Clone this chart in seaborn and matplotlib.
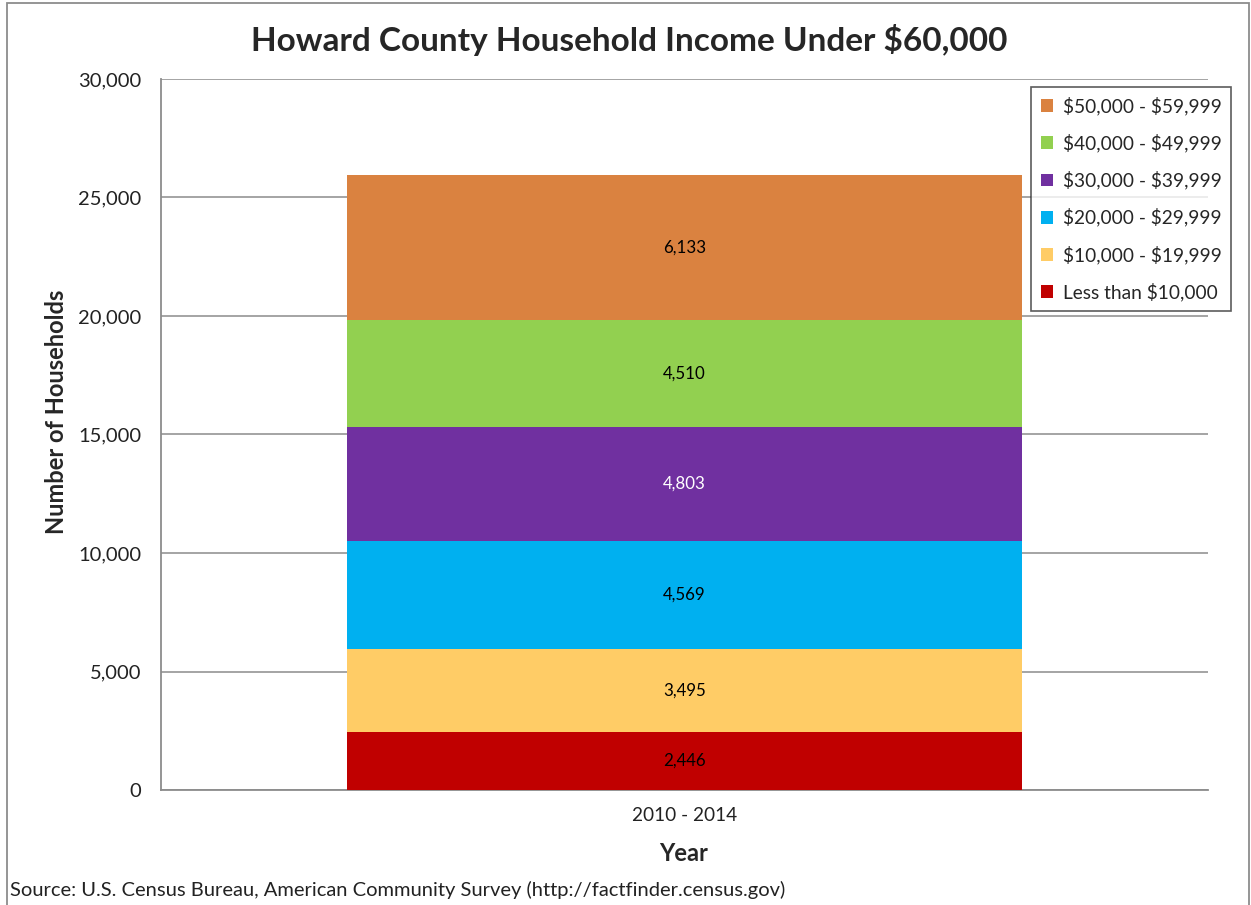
import matplotlib
matplotlib.use("Agg")
import matplotlib.pyplot as plt
import seaborn as sns
import pandas as pd
import numpy as np
from matplotlib.patches import Rectangle, Patch
from matplotlib.ticker import FuncFormatter, MultipleLocator

period = ["2010 - 2014"]
categories = ["Less than $10,000", "$10,000 - $19,999", "$20,000 - $29,999",
              "$30,000 - $39,999", "$40,000 - $49,999", "$50,000 - $59,999"]
values = [2446, 3495, 4569, 4803, 4510, 6133]
colors = ["#C00000", "#FFCC66", "#00B0F0", "#7030A0", "#92D050", "#DA8240"]
label_colors = ["black", "black", "black", "white", "black", "black"]

sns.set_theme(style="white")
plt.rcParams['font.family'] = ['Lato', 'DejaVu Sans']
plt.rcParams['text.parse_math'] = False

W, H = 1251, 905
fig = plt.figure(figsize=(W / 100, H / 100), dpi=100)
ax = fig.add_axes([161 / W, 1 - 790 / H, (1208 - 161) / W, (790 - 79) / H])

cum = np.cumsum(values)
df = pd.DataFrame({"Year": period * len(categories), "Category": categories,
                   "Value": values, "Top": cum})

for i in reversed(range(len(categories))):
    sns.barplot(data=df.iloc[[i]], x="Year", y="Top", color=colors[i],
                width=0.645, saturation=1, ax=ax, zorder=3, linewidth=0)

for i in range(len(categories)):
    ax.text(0, cum[i] - values[i] / 2, f"{values[i]:,}", ha="center", va="center",
            fontsize=12.2, color=label_colors[i], zorder=5)

ax.set_xlim(-0.5, 0.5)
ax.set_ylim(0, 30000)
ax.yaxis.set_major_locator(MultipleLocator(5000))
ax.yaxis.set_major_formatter(FuncFormatter(lambda v, p: f"{int(v):,}"))
ax.grid(axis="y", color="#8c8c8c", linewidth=1.1, zorder=0)
ax.set_axisbelow(True)
for s in ["top", "right"]:
    ax.spines[s].set_visible(False)
for s in ["left", "bottom"]:
    ax.spines[s].set_color("#8c8c8c")
    ax.spines[s].set_linewidth(1.3)
ax.tick_params(axis="y", length=0, pad=14, labelsize=14.5, labelcolor="#222222")
ax.tick_params(axis="x", length=0, pad=12, labelsize=13.7, labelcolor="#222222")
ax.set_xlabel("")
ax.set_ylabel("")

fig.text(629 / W, 1 - 40 / H, "Howard County Household Income Under $60,000",
         ha="center", va="center", fontsize=24, fontweight="bold")
fig.text(57 / W, 1 - 412 / H, "Number of Households", rotation=90,
         ha="center", va="center", fontsize=17, fontweight="bold")
fig.text(684 / W, 1 - 853 / H, "Year", ha="center", va="center",
         fontsize=17, fontweight="bold")
fig.text(10 / W, 1 - 890 / H,
         "Source: U.S. Census Bureau, American Community Survey (http://factfinder.census.gov)",
         ha="left", va="center", fontsize=14.5, color="#222222")

handles = [Patch(facecolor=colors[i], edgecolor="none", label=categories[i])
           for i in reversed(range(len(categories)))]
leg = fig.legend(handles=handles, loc="upper left",
                 bbox_to_anchor=(1031 / W, 1 - 87 / H), fontsize=13.8,
                 frameon=True, fancybox=False, handlelength=0.65, handleheight=0.65,
                 handletextpad=0.5, labelspacing=0.97, borderpad=0.5,
                 borderaxespad=0)
leg.get_frame().set_edgecolor("#333333")
leg.get_frame().set_linewidth(1.2)

fig.patches.append(Rectangle((7 / W, -0.01), (1249 - 7) / W, 1.01 - 3 / H,
                             transform=fig.transFigure, fill=False,
                             edgecolor="#8c8c8c", linewidth=1.3))

fig.savefig("out.png", dpi=100)
